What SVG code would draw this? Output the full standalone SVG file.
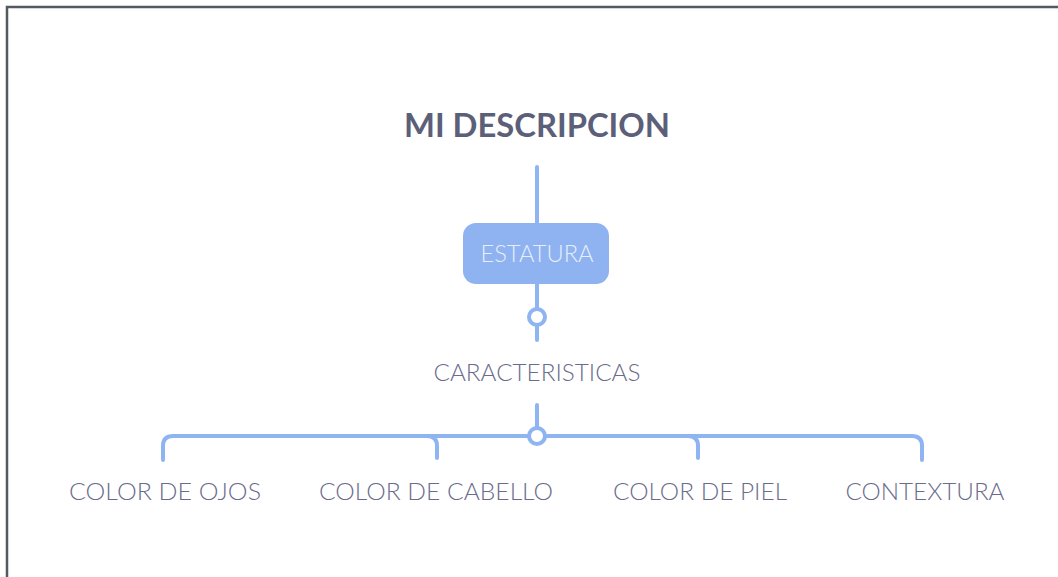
<svg xmlns="http://www.w3.org/2000/svg" width="1058" height="577" viewBox="0 0 1058 577">
<style>
.frame{fill:none;stroke:#555a60;stroke-width:2.5}
.conn{fill:none;stroke:#8fb4f2;stroke-width:4;stroke-linecap:round;stroke-linejoin:round}
.dot{fill:#ffffff;stroke:#8fb4f2;stroke-width:4}
.title{font-family:Lato,"Open Sans",sans-serif;font-weight:700;font-size:33px;fill:#5b6078;text-anchor:middle}
.lbl{font-family:Lato,"Open Sans",sans-serif;font-weight:300;font-size:24px;fill:#6a6c8c;text-anchor:middle}
.box{fill:#8fb2f0}
.boxt{font-family:Lato,"Open Sans",sans-serif;font-weight:300;font-size:24px;fill:#e6eefc;text-anchor:middle}
</style>
<rect width="1058" height="577" fill="#ffffff"/>
<path class="frame" d="M7,577 V7 H1058"/>
<g id="connectors">
<path class="conn" d="M537,167 V223"/>
<path class="conn" d="M537,283 V340"/>
<path class="conn" d="M537,405 V436"/>
<path class="conn" d="M163,460 V446 Q163,436 173,436 H912 Q922,436 922,446 V460"/>
<path class="conn" d="M427,436 Q437,436 437,446 V458"/>
<path class="conn" d="M688,436 Q698,436 698,446 V458"/>
<circle class="dot" cx="537" cy="317" r="8"/>
<circle class="dot" cx="537" cy="436" r="8"/>
</g>
<g id="title"><text class="title" x="537" y="137" textLength="266" lengthAdjust="spacingAndGlyphs">MI DESCRIPCION</text></g>
<g id="estatura">
<rect class="box" x="463" y="223" width="146" height="61" rx="13"/>
<text class="boxt" x="537" y="262" textLength="113" lengthAdjust="spacingAndGlyphs">ESTATURA</text>
</g>
<g id="caracteristicas"><text class="lbl" x="537" y="381" textLength="207" lengthAdjust="spacingAndGlyphs">CARACTERISTICAS</text></g>
<g id="ojos"><text class="lbl" x="165" y="500" textLength="192" lengthAdjust="spacingAndGlyphs">COLOR DE OJOS</text></g>
<g id="cabello"><text class="lbl" x="436" y="500" textLength="234" lengthAdjust="spacingAndGlyphs">COLOR DE CABELLO</text></g>
<g id="piel"><text class="lbl" x="700" y="500" textLength="174" lengthAdjust="spacingAndGlyphs">COLOR DE PIEL</text></g>
<g id="contextura"><text class="lbl" x="925" y="500" textLength="159" lengthAdjust="spacingAndGlyphs">CONTEXTURA</text></g>
</svg>
